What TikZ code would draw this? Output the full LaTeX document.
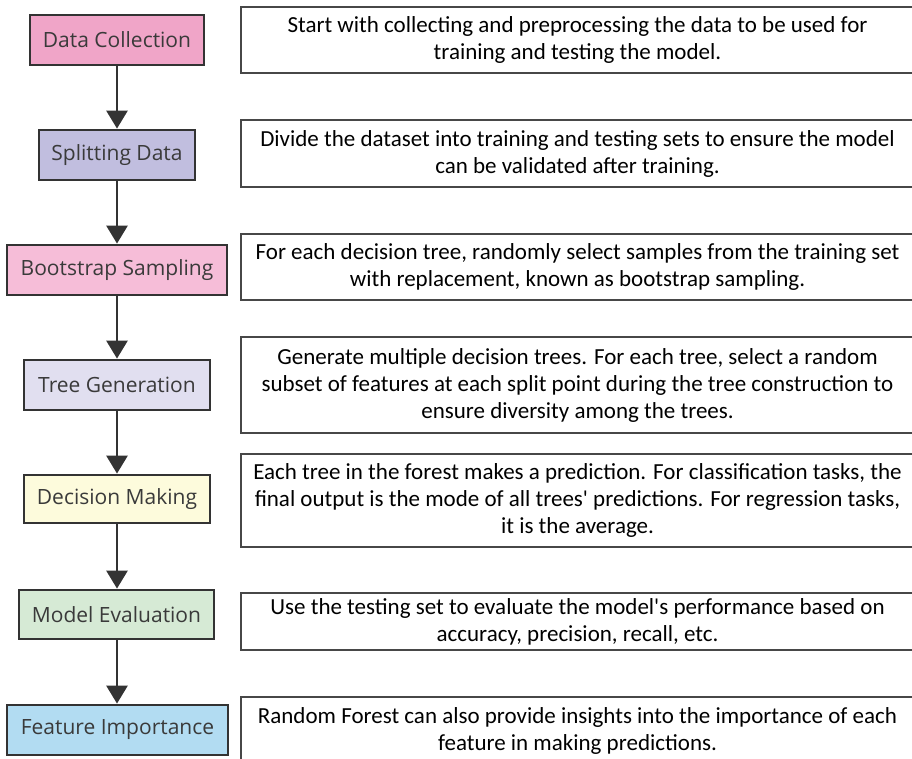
\documentclass[tikz,border=0pt]{standalone}
\usepackage{fontspec}
\setmainfont{Carlito}[Ligatures=TeXOff]
\newfontfamily\stepfont{Open Sans}
\usetikzlibrary{arrows.meta}
\definecolor{edgegrey}{HTML}{333333}
\definecolor{textgrey}{HTML}{3A3A3A}
\definecolor{cPinkA}{HTML}{F0A5C8}
\definecolor{cLav}{HTML}{C1BEDF}
\definecolor{cPinkB}{HTML}{F6BDD8}
\definecolor{cLavLight}{HTML}{E1DFF0}
\definecolor{cCream}{HTML}{FDFBDC}
\definecolor{cMint}{HTML}{D6EAD5}
\definecolor{cSky}{HTML}{B2DCF2}
\tikzset{
  stepbox/.style={draw=edgegrey, line width=2.8pt, inner sep=0pt,
    font=\stepfont\fontsize{21}{25}\selectfont, text=textgrey,
    minimum height=50pt},
  notebox/.style={draw=edgegrey!90, line width=1.8pt, inner sep=0pt,
    align=center, font=\fontsize{23}{27}\selectfont, text=black,
    minimum width=673pt},
  flow/.style={draw=edgegrey, line width=2.8pt,
    -{Triangle[width=21pt,length=18pt]}}
}
\begin{document}
\begin{tikzpicture}[x=1pt,y=-1pt]
\useasboundingbox (0,0) rectangle (912,759);
\clip (0,0) rectangle (912,759);

% process steps
\node[stepbox, fill=cPinkA,    minimum width=174pt] (s1) at (117,40)    {Data Collection};
\node[stepbox, fill=cLav,      minimum width=156pt] (s2) at (117,155)   {Splitting Data};
\node[stepbox, fill=cPinkB,    minimum width=220pt] (s3) at (117,270)   {Bootstrap Sampling};
\node[stepbox, fill=cLavLight, minimum width=186pt] (s4) at (117,385)   {Tree Generation};
\node[stepbox, fill=cCream,    minimum width=186pt, minimum height=48pt] (s5) at (117,499) {Decision Making};
\node[stepbox, fill=cMint,     minimum width=195pt, minimum height=49pt] (s6) at (116.5,614.5) {Model Evaluation};
\node[stepbox, fill=cSky,      minimum width=221pt] (s7) at (117.5,730) {Feature Importance};

% connectors
\draw[flow] (s1.south) -- (s2.north);
\draw[flow] (s2.south) -- (s3.north);
\draw[flow] (s3.south) -- (s4.north);
\draw[flow] (s4.south) -- (s5.north);
\draw[flow] (s5.south) -- (s6.north -| s5.south);
\draw[flow] (s6.south -| s5.south) -- (s7.north -| s5.south);

% descriptions
\node[notebox, minimum height=66pt] (d1) at (577.5,40)
  {Start with collecting and preprocessing the data to be used for\\training and testing the model.};
\node[notebox, minimum height=67pt] (d2) at (577.5,153.5)
  {Divide the dataset into training and testing sets to ensure the model\\can be validated after training.};
\node[notebox, minimum height=66pt] (d3) at (577.5,267)
  {For each decision tree, randomly select samples from the training set\\with replacement, known as bootstrap sampling.};
\node[notebox, minimum height=96pt] (d4) at (577.5,385)
  {Generate multiple decision trees. For each tree, select a random\\subset of features at each split point during the tree construction to\\ensure diversity among the trees.};
\node[notebox, minimum height=93pt] (d5) at (577.5,500.5)
  {Each tree in the forest makes a prediction. For classification tasks, the\\final output is the mode of all trees' predictions. For regression tasks,\\it is the average.};
\node[notebox, minimum height=57pt] (d6) at (577.5,621.5)
  {Use the testing set to evaluate the model's performance based on\\accuracy, precision, recall, etc.};
\node[notebox, minimum height=68pt] (d7) at (577.5,731)
  {Random Forest can also provide insights into the importance of each\\feature in making predictions.};
\end{tikzpicture}
\end{document}
